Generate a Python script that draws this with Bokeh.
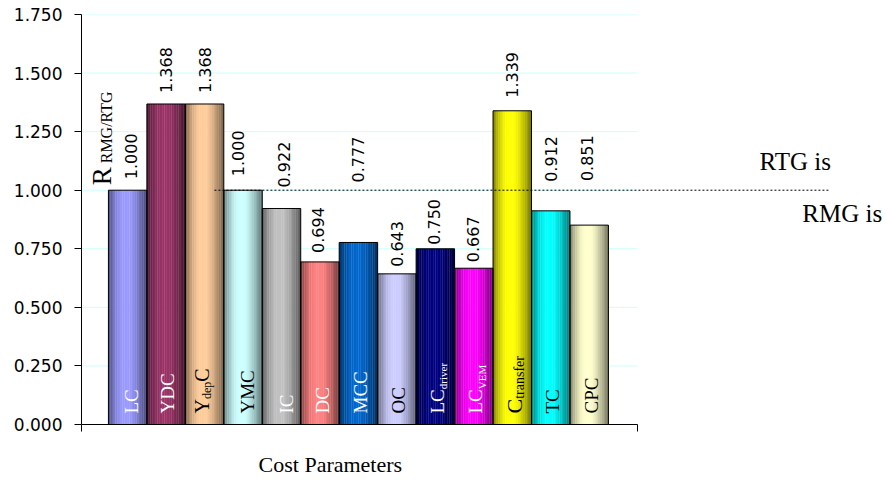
import math

from bokeh.plotting import figure
from bokeh.models import (Range1d, FixedTicker, NumeralTickFormatter, LinearAxis,
                          CustomJSTickFormatter, ColumnDataSource)
from bokeh.core.properties import value
from bokeh.embed import file_html
from bokeh.resources import INLINE

# ---- data -------------------------------------------------------------
params = ["LC", "YDC", "YdepC", "YMC", "IC", "DC", "MCC", "OC",
          "LCdriver", "LCVEM", "Ctransfer", "TC", "CPC"]
ratios = [1.000, 1.368, 1.368, 1.000, 0.922, 0.694, 0.777, 0.643,
          0.750, 0.667, 1.339, 0.912, 0.851]
y_ticks = [0.0, 0.25, 0.5, 0.75, 1.0, 1.25, 1.5, 1.75]
parity = 1.0  # R = 1: RTG and RMG cost the same
x_title = "Cost Parameters"

# ---- styling ----------------------------------------------------------
bar_colors = ["#9999FF", "#993366", "#FFCC99", "#CCFFFF", "#C0C0C0", "#FF8080",
              "#0066CC", "#CCCCFF", "#000080", "#FF00FF", "#FFFF00", "#00FFFF",
              "#FFFFCC"]
name_colors = ["white", "white", "black", "black", "white", "white", "white",
               "black", "white", "white", "black", "black", "black"]
# bar names written inside the bars: (text, font size px, is subscript)
name_parts = [
    [("LC", 19, False)],
    [("YDC", 19, False)],
    [("Y", 20, False), ("dep", 12, True), ("C", 20, False)],
    [("YMC", 19, False)],
    [("IC", 19, False)],
    [("DC", 19, False)],
    [("MCC", 19, False)],
    [("OC", 19, False)],
    [("LC", 19, False), ("driver", 11, True)],
    [("LC", 19, False), ("VEM", 11, True)],
    [("C", 22, False), ("transfer", 14, True)],
    [("TC", 19, False)],
    [("CPC", 19, False)],
]
name_nudge = [4, 1, -3, 4, 5, 3, 2, 2, 2, 2, 2, 2, 2]
# value labels: pixel lift above the bar top and sideways nudge
label_lift = [11, 11, 11, 14, 21, 9, 60, 7, 4, 6, 13, 29, 44]
label_nudge = [3, 0, 0, -5, 2, -2, 0, 0, -1, -1, 0, 0, -2]

SERIF = "Liberation Serif"
SANS = "DejaVu Sans"
BASE_SHIFT = 0.3375  # baseline distance below the box middle, in em

# Times-like advance widths (em) for composing the rotated bar names
TIMES_W = {"L": .611, "C": .667, "Y": .722, "D": .722, "M": .889, "I": .333,
           "O": .722, "T": .611, "P": .556, "V": .722, "E": .611, "R": .667,
           "G": .722, "d": .5, "e": .444, "p": .5, "r": .333, "i": .278,
           "v": .5, "t": .278, "a": .444, "n": .5, "s": .389, "f": .333,
           "/": .278}


def text_width(s, size):
    return sum(TIMES_W.get(ch, .5) for ch in s) * size


x_lo, x_hi = -1.2, 19.73      # visible x extent (bars sit at 0..12)
axis_end = 13.25               # where the category axis stops

p = figure(width=886, height=483, output_backend="svg", toolbar_location=None,
           title=None, x_range=Range1d(x_lo, x_hi), y_range=Range1d(0, 1.75),
           min_border_left=81, min_border_right=0, min_border_top=14,
           min_border_bottom=59)
p.outline_line_color = None
p.background_fill_color = "white"
p.border_fill_color = "white"
p.xgrid.visible = False
p.ygrid.visible = False

# horizontal gridlines, limited to the axis extent
p.segment(x0=[x_lo] * (len(y_ticks) - 1), x1=[axis_end] * (len(y_ticks) - 1),
          y0=y_ticks[1:], y1=y_ticks[1:], line_color="#CCFFFF", line_width=1)

# ---- shaded cylinder-like bars -----------------------------------------
N_SLICES = 22


def shade(t):
    if t < 0.4:
        return 0.5 + 0.5 * math.sin(math.pi / 2 * t / 0.4)
    if t < 0.55:
        return 1.0
    return 1.0 - 0.55 * ((t - 0.55) / 0.45) ** 1.3


def scaled(hex_color, f):
    r, g, b = (int(hex_color[k:k + 2], 16) for k in (1, 3, 5))
    return "#%02x%02x%02x" % (int(r * f), int(g * f), int(b * f))


sl_left, sl_right, sl_top, sl_color = [], [], [], []
for i, (val, col) in enumerate(zip(ratios, bar_colors)):
    for k in range(N_SLICES):
        t = (k + 0.5) / N_SLICES
        sl_left.append(i - 0.5 + k / N_SLICES)
        sl_right.append(i - 0.5 + (k + 1.15) / N_SLICES if k < N_SLICES - 1 else i + 0.5)
        sl_top.append(val)
        sl_color.append(scaled(col, shade(t)))

p.quad(left=sl_left, right=sl_right, top=sl_top, bottom=0,
       fill_color=sl_color, line_color=None)
idx = list(range(len(params)))
p.vbar(x=idx, width=1, top=ratios, fill_color=None, line_color="black",
       line_width=1)

# ---- reference line at R = 1 ------------------------------------------
p.line(x=[2.256, 18.22], y=[parity, parity], line_color="black",
       line_width=1, line_dash="2 2")

# ---- value labels ------------------------------------------------------
vsrc = ColumnDataSource(dict(
    x=idx, y=ratios, text=["%.3f" % v for v in ratios],
    xo=label_nudge, yo=[-v for v in label_lift]))
p.text(x="x", y="y", text="text", x_offset="xo", y_offset="yo", source=vsrc,
       angle=math.pi / 2, text_align="left", text_baseline="middle",
       text_font=value(SANS), text_font_size="16px", text_color="black")

# ---- bar names inside the bars ---------------------------------------
nx, ntext, nsize, ncolor, nxo, nyo = [], [], [], [], [], []
for i, parts in enumerate(name_parts):
    cum = 11
    main = parts[0][1]
    for txt, size, sub in parts:
        nx.append(i)
        ntext.append(txt)
        nsize.append("%dpx" % size)
        ncolor.append(name_colors[i])
        shift = BASE_SHIFT * (main - size) + 3 if sub else BASE_SHIFT * (main - size)
        nxo.append(name_nudge[i] + shift)
        nyo.append(-cum)
        cum += text_width(txt, size)
nsrc = ColumnDataSource(dict(x=nx, y=[0] * len(nx), text=ntext, size=nsize,
                             color=ncolor, xo=nxo, yo=nyo))
p.text(x="x", y="y", text="text", x_offset="xo", y_offset="yo", source=nsrc,
       angle=math.pi / 2, text_align="left", text_baseline="middle",
       text_font=value(SERIF), text_font_size="size", text_color="color")

# ---- R_{RMG/RTG} quantity label -------------------------------------
r_size, r_sub = 27, 16
rsrc = ColumnDataSource(dict(
    x=[-0.669, -0.669], y=[1.021, 1.021], text=["R", "RMG/RTG"],
    size=["%dpx" % r_size, "%dpx" % r_sub], xo=[0, 5],
    yo=[0, -(text_width("R", r_size) + 4)]))
p.text(x="x", y="y", text="text", x_offset="xo", y_offset="yo", source=rsrc,
       angle=math.pi / 2, text_align="left", text_baseline="middle",
       text_font=value(SERIF), text_font_size="size", text_color="black")

# ---- side notes ----------------------------------------------------
p.text(x=[16.43, 17.54], y=[1.122, 0.8996], text=["RTG is", "RMG is"],
       text_align="left", text_baseline="middle",
       text_font=value(SERIF), text_font_size="25px", text_color="black")

# ---- axes --------------------------------------------------------------
ya = p.yaxis[0]
ya.ticker = FixedTicker(ticks=y_ticks)
ya.formatter = NumeralTickFormatter(format="0.000")
ya.major_label_text_font = SANS
ya.major_label_text_font_size = "17px"
ya.major_label_text_color = "black"
ya.major_label_standoff = 12
ya.major_tick_out = 7
ya.major_tick_in = 0
ya.minor_tick_out = 0
ya.minor_tick_in = 0
ya.axis_line_color = "black"
ya.major_tick_line_color = "black"

xa = p.xaxis[0]
xa.bounds = (x_lo, axis_end)
xa.ticker = FixedTicker(ticks=[x_lo, axis_end])
xa.major_label_overrides = {x_lo: "", axis_end: ""}
xa.major_label_standoff = 0
xa.major_tick_out = 7
xa.major_tick_in = 0
xa.minor_tick_out = 0
xa.minor_tick_in = 0
xa.axis_line_color = "black"
xa.major_tick_line_color = "black"

# category-axis caption, carried by a bare axis stacked under the first one
title_axis = LinearAxis(
    ticker=FixedTicker(ticks=[5.27]),
    formatter=CustomJSTickFormatter(code="return %r;" % x_title),
    axis_line_color=None, major_tick_line_color=None,
    minor_tick_line_color=None, major_tick_out=0, major_tick_in=0,
    major_label_standoff=20, major_label_text_font=SERIF,
    major_label_text_font_size="22px", major_label_text_color="black")
p.add_layout(title_axis, "below")

open("out.html", "w").write(file_html(p, INLINE))
